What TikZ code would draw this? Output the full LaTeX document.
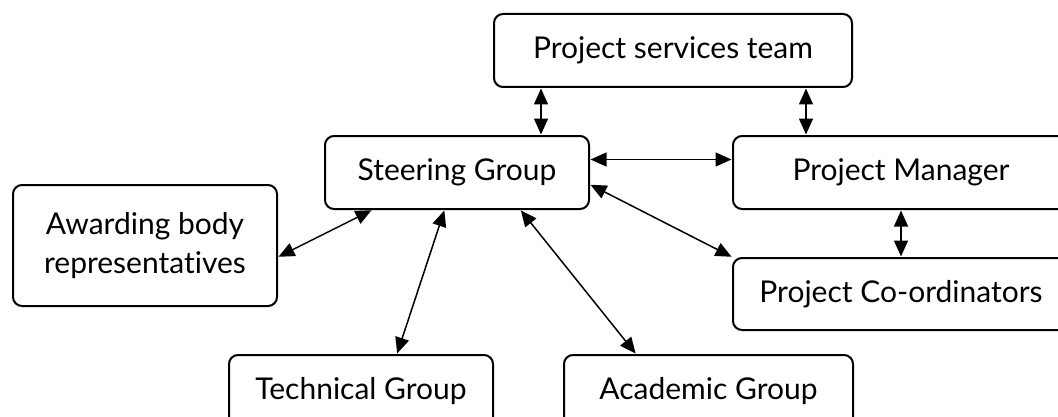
\documentclass[tikz,border=0pt]{standalone}
\usepackage{fontspec}
\setmainfont{Lato}[Ligatures=NoCommon]
\usetikzlibrary{arrows.meta}
\begin{document}
\begin{tikzpicture}[x=1pt,y=1pt,
  box/.style={draw=black, line width=2pt, rounded corners=9pt, inner sep=0pt,
    align=center, font=\fontsize{30}{39}\selectfont},
  link/.style={line width=1.5pt, {Triangle[length=16pt,width=14pt]}-{Triangle[length=16pt,width=14pt]}, shorten <=0.5pt, shorten >=0.5pt}]
\useasboundingbox (0,0) rectangle (1058,416);
\clip (0,0) rectangle (1058,416);
\node[box, minimum width=358pt, minimum height=73pt] (pst) at (673,365.5) {Project services team};
\node[box, minimum width=264pt, minimum height=73pt] (sg) at (457,243.5) {Steering Group};
\node[box, minimum width=336pt, minimum height=73pt] (pm) at (901,243.5) {Project Manager};
\node[box, minimum width=336pt, minimum height=72pt] (pc) at (901,122) {Project Co-ordinators};
\node[box, minimum width=264pt, minimum height=121pt] (ab) at (145,170.5) {Awarding body\\representatives};
\node[box, minimum width=264pt, minimum height=73pt] (tg) at (361,24.5) {Technical Group};
\node[box, minimum width=289pt, minimum height=73pt] (ag) at (708.5,24.5) {Academic Group};
\draw[link] ([xshift=84pt]sg.north) -- ([xshift=84pt]sg.north |- pst.south);
\draw[link] ([xshift=-95pt]pm.north) -- ([xshift=-95pt]pm.north |- pst.south);
\draw[link] ([yshift=13pt]sg.east) -- ([yshift=13pt]sg.east -| pm.west);
\draw[link] ([yshift=-12pt]sg.east) -- (pc.north west);
\draw[link] (pm.south) -- (pc.north);
\draw[link] ([xshift=-85pt]sg.south) -- ([yshift=-11.5pt]ab.east);
\draw[link] ([xshift=-12.5pt]sg.south) -- ([xshift=36pt]tg.north);
\draw[link] ([xshift=63.5pt]sg.south) -- ([xshift=-72.5pt]ag.north);
\end{tikzpicture}
\end{document}
